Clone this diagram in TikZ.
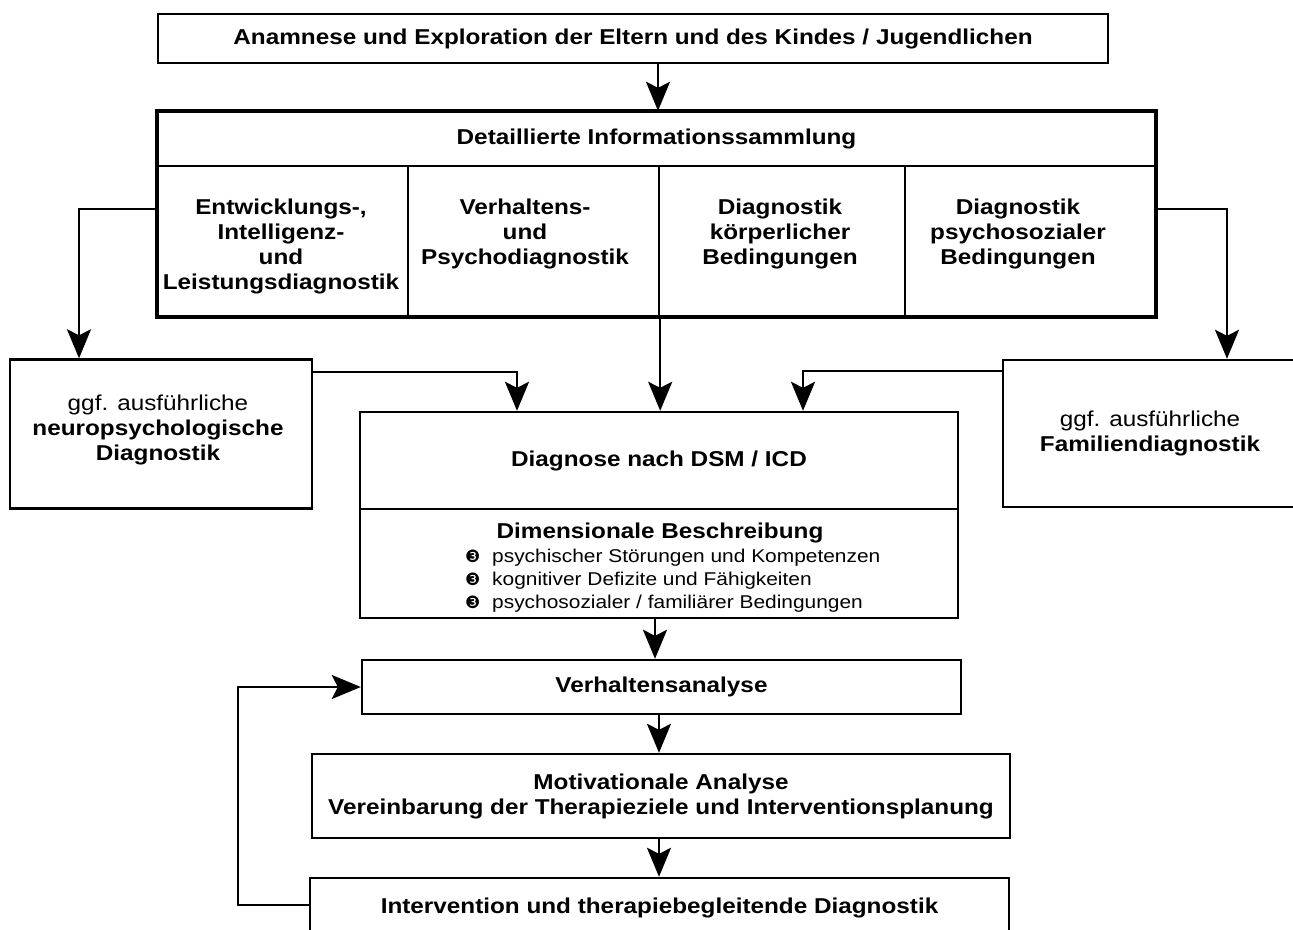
\documentclass[tikz,border=0pt]{standalone}
\usepackage{fontspec}
\setmainfont{Liberation Sans}[FakeStretch=1.13]
\newfontfamily\dingfont{DejaVu Sans}
\usetikzlibrary{arrows.meta}
\newcommand{\mainsz}{\fontsize{21.5}{25}\selectfont}
\newcommand{\smallsz}{\fontsize{18.5}{23}\selectfont}
\newcommand{\bul}{\makebox[27pt][l]{\dingfont\fontsize{17}{17}\selectfont ❸}}
\tikzset{
  box/.style={draw, line width=2.4pt, inner sep=0pt, align=center, font=\mainsz\bfseries},
  txt/.style={inner sep=0pt, align=center, font=\mainsz\bfseries},
  arr/.style={line width=2.4pt, line join=miter, -{Stealth[length=29pt,width=24pt,inset=6pt]}},
}
\begin{document}
\begin{tikzpicture}[x=1pt,y=-1pt]
\useasboundingbox (0,0) rectangle (1293,929);
\clip (0,0) rectangle (1293,929);
% top
\node[box, minimum width=950pt, minimum height=49pt] (top) at (633,38.5)
  {Anamnese und Exploration der Eltern und des Kindes / Jugendlichen};
% big box
\node[box, minimum width=997pt, minimum height=54pt] (hdr) at (656.5,139)
  {Detaillierte Informationssammlung};
\node[box, minimum width=250pt, minimum height=150pt] (col1) at (283,241) {};
\node[box, minimum width=251pt, minimum height=150pt] (col2) at (533.5,241) {};
\node[box, minimum width=246pt, minimum height=150pt] (col3) at (782,241) {};
\node[box, minimum width=250pt, minimum height=150pt] (col4) at (1030,241) {};
\draw[line width=3.2pt] (hdr.north west) rectangle (col4.south east);
\node[txt, anchor=north] (t1) at (281,199) {Entwicklungs-,\\Intelligenz-\\und\\Leistungsdiagnostik};
\node[txt, anchor=north] (t2) at (525,199) {Verhaltens-\\und\\Psychodiagnostik};
\node[txt, anchor=north] (t3) at (780,199) {Diagnostik\\körperlicher\\Bedingungen};
\node[txt, anchor=north] (t4) at (1018,199) {Diagnostik\\psychosozialer\\Bedingungen};
% side boxes
\node[box, minimum width=302pt, minimum height=149pt] (neuro) at (161,434) {};
\node[txt] (neurot) at (158,430)
  {\mdseries ggf. ausführliche\\neuropsychologische\\Diagnostik};
\node[box, minimum width=294pt, minimum height=147pt] (famil) at (1150,433.5)
  {\mdseries ggf. ausführliche\\Familiendiagnostik};
% DSM
\node[box, minimum width=598pt, minimum height=97pt] (dsm) at (659,460.5)
  {Diagnose nach DSM / ICD};
\node[box, minimum width=598pt, minimum height=109pt] (dim) at (659,563.5) {};
\node[txt] (dimt) at (660,533) {Dimensionale Beschreibung};
\node[inner sep=0pt, align=left, anchor=west, font=\smallsz] (diml) at (465,581)
  {\bul psychischer Störungen und Kompetenzen\\
   \bul kognitiver Defizite und Fähigkeiten\\
   \bul psychosozialer / familiärer Bedingungen};
% lower chain
\node[box, minimum width=599pt, minimum height=54pt] (verh) at (661.5,687) {Verhaltensanalyse};
\node[box, minimum width=698pt, minimum height=84pt] (motiv) at (661,796)
  {Motivationale Analyse\\Vereinbarung der Therapieziele und Interventionsplanung};
\node[box, minimum width=699pt, minimum height=60pt] (interv) at (659.5,908)
  {Intervention und therapiebegleitende Diagnostik};
\coordinate (fb) at (238,905);
% connectors
\draw[arr] (top.south -| 658,0) -- (hdr.north -| 658,0);
\draw[arr] ([yshift=32pt]col1.west) -| ([xshift=-82pt]neuro.north);
\draw[arr] ([yshift=32pt]col4.east) -| ([xshift=77pt]famil.north);
\draw[arr] (col2.south east) -- (col2.south east |- dsm.north);
\draw[arr] ([yshift=62pt]neuro.east) -| ([xshift=-142pt]dsm.north);
\draw[arr] ([yshift=62.5pt]famil.west) -| ([xshift=144pt]dsm.north);
\draw[arr] ([xshift=-4pt]dim.south) -- (verh.north -| 655,0);
\draw[arr] (verh.south -| 659,0) -- (motiv.north -| 659,0);
\draw[arr] (motiv.south -| 659,0) -- (interv.north -| 659,0);
\draw[arr] (interv.west |- fb) -- (fb) |- (verh.west);
\end{tikzpicture}
\end{document}
